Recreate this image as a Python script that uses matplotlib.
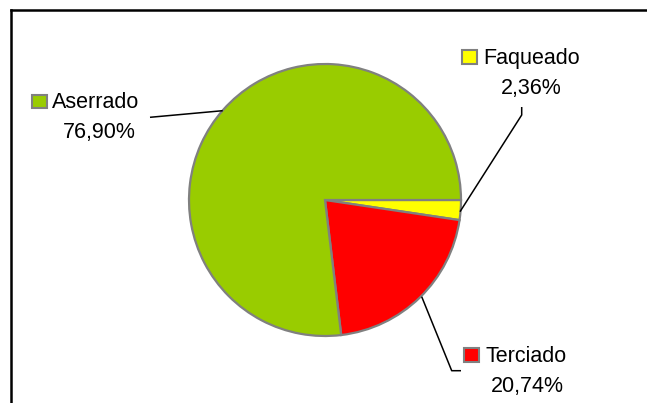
import matplotlib
matplotlib.use("Agg")
import matplotlib.pyplot as plt
from matplotlib.patches import Rectangle
from matplotlib.lines import Line2D

categories = ["Faqueado", "Terciado", "Aserrado"]
values = [2.36, 20.74, 76.90]
colors = ["#FFFF00", "#FF0000", "#99CC00"]
explode = [0.0, 0.022, 0.0]

W, H = 647, 403
fig = plt.figure(figsize=(W / 100, H / 100), dpi=100)
ax = fig.add_axes([0, 0, 1, 1])
plt.rcParams['font.family'] = ['Liberation Sans', 'DejaVu Sans']

def Y(y):
    return H - y

ax.pie(values, colors=colors, explode=explode, startangle=0, counterclock=False,
       center=(325, Y(200)), radius=136, frame=True,
       wedgeprops=dict(edgecolor="#808080", linewidth=1.6))
ax.set_xlim(0, W)
ax.set_ylim(0, H)
ax.set_aspect('auto')
ax.axis('off')

# label layout: (square x, square top y, text x, baseline y, pct center x, pct baseline y)
layout = {
    "Aserrado": (32, 94.5, 52, 108.3, 99, 138.3),
    "Faqueado": (462, 50, 483, 64, 531, 94.3),
    "Terciado": (464, 348, 485, 362.3, 527, 392.3),
}
leaders = {
    "Aserrado": [(150, 117.3), (222.7, 110.7)],
    "Faqueado": [(521.7, 107), (521.7, 115), (460, 211.7)],
    "Terciado": [(461, 370.7), (451.7, 370.7), (421.7, 296.7)],
}
fs = 15.5
for cat, val, col in zip(categories, values, colors):
    sx, sy, tx, tb, px, pb = layout[cat]
    ax.add_patch(Rectangle((sx, Y(sy + 13.5)), 15, 13.5, facecolor=col,
                           edgecolor="#808080", linewidth=1.5))
    ax.text(tx, Y(tb), cat, fontsize=fs, ha='left', va='baseline')
    ax.text(px, Y(pb), f"{val:.2f}%".replace('.', ','), fontsize=fs,
            ha='center', va='baseline')
    pts = leaders[cat]
    ax.plot([p[0] for p in pts], [Y(p[1]) for p in pts], color='black', lw=1.1,
            solid_capstyle='butt')

# chart border (top and left visible)
ax.add_line(Line2D([10.5, W], [Y(9.5), Y(9.5)], color='black', lw=1.8))
ax.add_line(Line2D([10.5, 10.5], [Y(9.5), 0], color='black', lw=1.8))

fig.savefig("out.png", dpi=100)
